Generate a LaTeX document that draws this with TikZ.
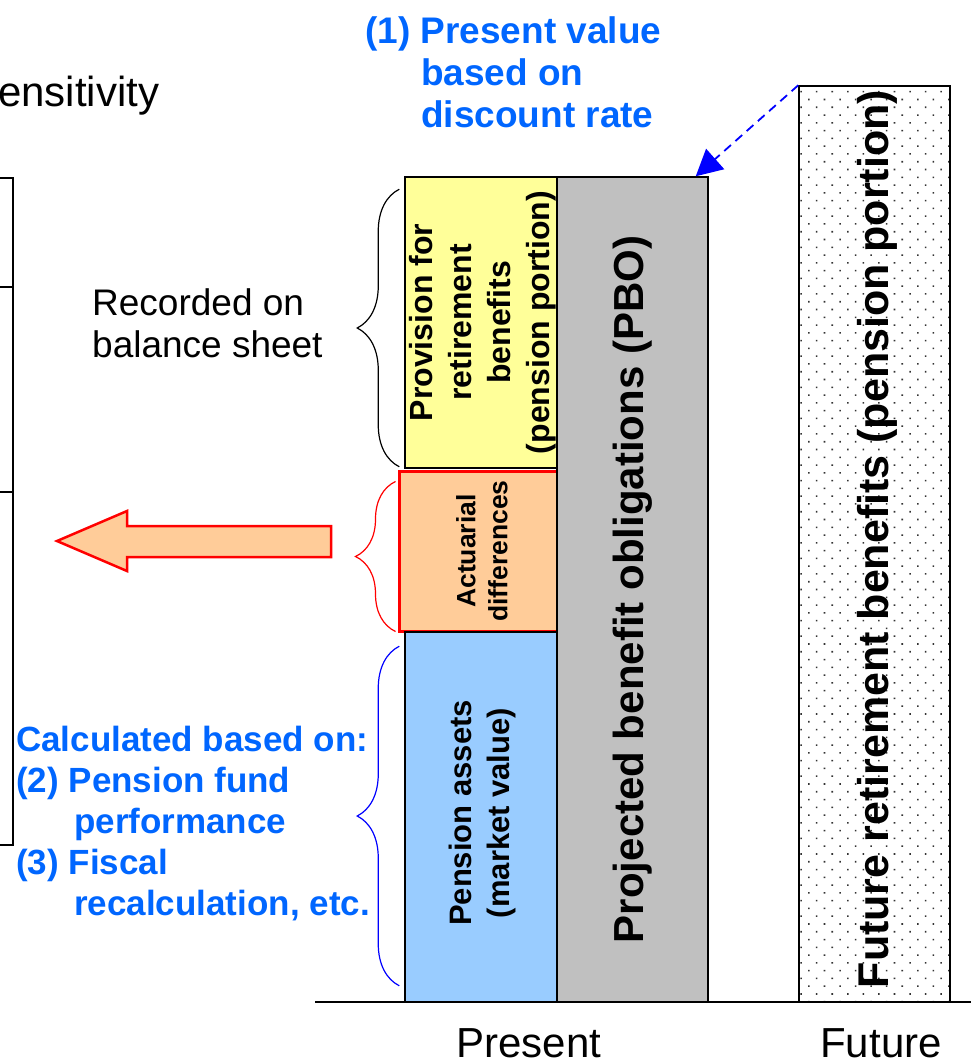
\documentclass[tikz,border=0pt]{standalone}
\usepackage{fontspec}
\setmainfont{Liberation Sans}
\usetikzlibrary{arrows.meta}
\usetikzlibrary{decorations.pathreplacing}
\usetikzlibrary{patterns.meta}

\definecolor{provyellow}{HTML}{FFFF99}
\definecolor{actpeach}{HTML}{FFCC99}
\definecolor{assetblue}{HTML}{99CCFF}
\definecolor{pbogray}{HTML}{C0C0C0}
\definecolor{noteblue}{HTML}{0066FF}

\begin{document}
\begin{tikzpicture}[x=1pt,y=-1pt,
        bar/.style={draw, line width=1.5pt, inner sep=0pt, minimum width=152pt},
        barlabel/.style={rotate=90, align=center, inner sep=0pt},
        note/.style={align=left, inner sep=0pt, text=noteblue},
        plaintext/.style={align=left, inner sep=0pt},
        bracemark/.style={decorate, line width=1.2pt}
    ]
        \useasboundingbox (0,0) rectangle (971,1064);

        \node[plaintext, font=\fontsize{42}{48}\selectfont, anchor=base west] (sens) at (-2,107) {ensitivity};
        \draw[line width=1.5pt] (0,178) -- (13,178) -- (13,845) -- (0,845);
        \draw[line width=1.5pt] (0,287) -- (13,287);
        \draw[line width=1.5pt] (0,492) -- (13,492);

        \node[bar, fill=provyellow, minimum height=291pt] (prov) at (481,322.5) {};
        \node[bar, fill=actpeach, draw=red, line width=3pt, minimum width=158pt, minimum height=160pt] (act) at (478,551) {};
        \node[bar, fill=assetblue, minimum height=370pt] (asset) at (481,817) {};
        \node[bar, fill=pbogray, minimum width=151pt, minimum height=825pt] (pbo) at (632.5,589.5) {};
        \node[bar, pattern={Dots[distance=11pt, angle=45, radius=1.1pt]}, pattern color=black!80, minimum width=151pt, minimum height=916pt] (fut) at (874.5,544) {};

        \node[barlabel, font=\bfseries\fontsize{32}{39}\selectfont] (provtext) at (483,322.5) {Provision for\\retirement\\benefits\\(pension portion)};
        \node[barlabel, font=\bfseries\fontsize{26.5}{32}\selectfont] (acttext) at (482,551) {Actuarial\\differences};
        \node[barlabel, font=\bfseries\fontsize{31}{38}\selectfont] (assettext) at (482,813) {Pension assets\\(market value)};
        \node[barlabel, font=\bfseries\fontsize{42}{48}\selectfont] (pbotext) at (pbo) {Projected benefit obligations (PBO)};
        \node[barlabel, font=\bfseries\fontsize{43}{48}\selectfont] (futtext) at (877,539) {Future retirement benefits (pension portion)};

        \draw[line width=2pt] (315,1002) -- (971,1002);
        \node[plaintext, font=\fontsize{42}{48}\selectfont, anchor=base] (present) at (529,1057) {Present};
        \node[plaintext, font=\fontsize{42}{48}\selectfont, anchor=base] (future) at (881,1057) {Future};

        \draw[bracemark, decoration={brace, amplitude=42pt, raise=5pt}] ([yshift=2pt]prov.south west) -- ([yshift=-13pt]prov.north west);
        \draw[bracemark, red, decoration={brace, amplitude=40pt, raise=2pt}] ([yshift=1pt]act.south west) -- ([yshift=-12pt]act.north west);
        \draw[bracemark, blue, decoration={brace, amplitude=42pt, raise=5pt}] ([yshift=17pt]asset.south west) -- ([yshift=-15pt]asset.north west);

        \node[plaintext, font=\fontsize{37}{42}\selectfont, anchor=north west] (recnote) at (92,288) {Recorded on\\balance sheet};
        \node[note, font=\bfseries\fontsize{37}{42}\selectfont, anchor=north west] (pvnote) at (365,16) {(1) Present value\\\hspace*{56pt}based on\\\hspace*{56pt}discount rate};
        \node[note, font=\bfseries\fontsize{35}{41}\selectfont, anchor=north west] (calcnote) at (16,726) {Calculated based on:\\(2) Pension fund\\\hspace*{58pt}performance\\(3) Fiscal\\\hspace*{58pt}recalculation, etc.};

        \draw[red, line width=2.5pt, fill=actpeach] (57,541) -- (127,511) -- (127,526) -- (331,526) -- (331,557) -- (127,557) -- (127,571) -- cycle;

        \draw[blue, line width=1.8pt, dash pattern=on 9pt off 6pt, -{Triangle[length=26pt, width=27pt]}] (fut.north west) -- ([xshift=-13pt]pbo.north east);
    \end{tikzpicture}
\end{document}
